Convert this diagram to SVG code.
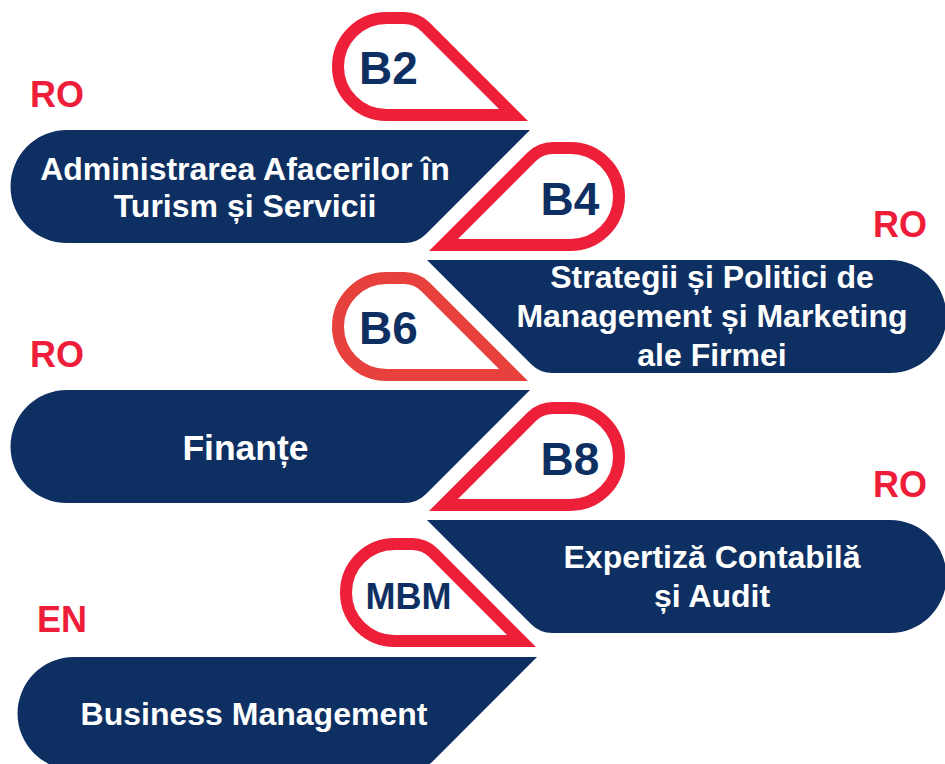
<svg xmlns="http://www.w3.org/2000/svg" xmlns:xlink="http://www.w3.org/1999/xlink" width="945" height="764" viewBox="0 0 945 764">
<style>
.bar{fill:#0d2f62}
.drop{fill:#ffffff;stroke:#ee2039;stroke-width:12;stroke-linejoin:miter;stroke-miterlimit:6}
.drop2{stroke:#e8403c}
.bt{font-family:"Liberation Sans",Arial,sans-serif;font-weight:bold;font-size:32px;fill:#ffffff;text-anchor:middle}
.code{font-family:"Liberation Sans",Arial,sans-serif;font-weight:bold;font-size:46px;fill:#0d2f62;text-anchor:middle}
.lang{font-family:"Liberation Sans",Arial,sans-serif;font-weight:bold;font-size:36px;fill:#ee1d3a;text-anchor:middle}
</style>
<defs>
<path id="barShape" d="M67,130 L530,130 L425.8,234.2 A30,30 0 0 1 404.6,243 L67,243 A56.5,56.5 0 0 1 67,130 Z"/>
<path id="dropShape" d="M386.5,115 A48.5,48.5 0 0 1 386.5,18 L404.1,18 A30,30 0 0 1 425.3,26.8 L513.5,115 Z"/>
</defs>
<rect width="945" height="764" fill="#ffffff"/>

<g id="node-b2">
<use xlink:href="#dropShape" class="drop"/>
<text class="code" x="388.5" y="84">B2</text>
</g>
<g id="node-ro1">
<text class="lang" x="57" y="107">RO</text>
</g>
<g id="node-administrarea">
<use xlink:href="#barShape" class="bar"/>
<text class="bt" x="245" y="180">Administrarea Afacerilor în</text>
<text class="bt" x="245" y="217">Turism și Servicii</text>
</g>

<g id="node-b4">
<use xlink:href="#dropShape" class="drop" transform="translate(957,130) scale(-1,1)"/>
<text class="code" x="570" y="215">B4</text>
</g>
<g id="node-ro2">
<text class="lang" x="900" y="237">RO</text>
</g>
<g id="node-strategii">
<use xlink:href="#barShape" class="bar" transform="translate(957,130) scale(-1,1)"/>
<text class="bt" x="712" y="288">Strategii și Politici de</text>
<text class="bt" x="712" y="327">Management și Marketing</text>
<text class="bt" x="712" y="366">ale Firmei</text>
</g>

<g id="node-b6">
<use xlink:href="#dropShape" class="drop drop2" transform="translate(0,260)"/>
<text class="code" x="388.5" y="344">B6</text>
</g>
<g id="node-ro3">
<text class="lang" x="57" y="367">RO</text>
</g>
<g id="node-finante">
<use xlink:href="#barShape" class="bar" transform="translate(0,260)"/>
<text class="bt" x="245.5" y="460" style="font-size:35.5px">Finanțe</text>
</g>

<g id="node-b8">
<use xlink:href="#dropShape" class="drop" transform="translate(957,390) scale(-1,1)"/>
<text class="code" x="570" y="475">B8</text>
</g>
<g id="node-ro4">
<text class="lang" x="900" y="497">RO</text>
</g>
<g id="node-expertiza">
<use xlink:href="#barShape" class="bar" transform="translate(957,390) scale(-1,1)"/>
<text class="bt" x="712" y="568">Expertiză Contabilă</text>
<text class="bt" x="712" y="607">și Audit</text>
</g>

<g id="node-mbm">
<use xlink:href="#dropShape" class="drop" transform="translate(8,526)"/>
<text class="code" x="408.5" y="609" style="font-size:36px">MBM</text>
</g>
<g id="node-en">
<text class="lang" x="62" y="632">EN</text>
</g>
<g id="node-business">
<use xlink:href="#barShape" class="bar" transform="translate(7,527)"/>
<text class="bt" x="254" y="725">Business Management</text>
</g>
</svg>
